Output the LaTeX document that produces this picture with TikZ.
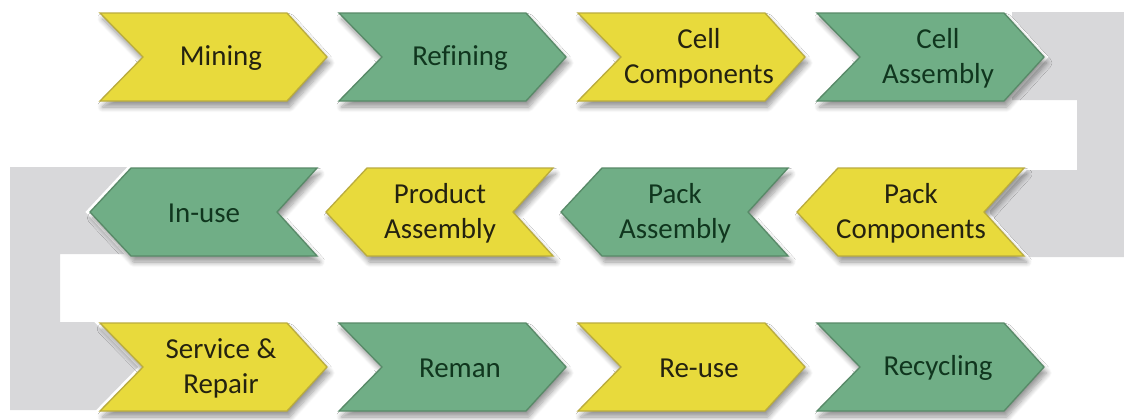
\documentclass[tikz,border=0pt]{standalone}
\usepackage{fontspec}
\setmainfont{Carlito}[Ligatures=NoCommon]
\usetikzlibrary{shadows.blur}

\definecolor{chevyellow}{RGB}{232,218,60}
\definecolor{chevyellowedge}{RGB}{186,172,62}
\definecolor{chevgreen}{RGB}{112,174,134}
\definecolor{chevgreenedge}{RGB}{88,138,104}
\definecolor{yellowink}{RGB}{36,34,16}
\definecolor{greenink}{RGB}{16,54,30}
\definecolor{bandgray}{RGB}{216,216,218}

\tikzset{
  x=0.75pt, y=-0.75pt,
  chevbase/.style={
    preaction={draw=white, line width=5pt, line join=miter},
    blur shadow={shadow xshift=2pt, shadow yshift=-4.5pt, shadow blur steps=8,
                 shadow blur radius=4pt, shadow opacity=42},
    line width=1pt, line join=miter},
  ylw/.style={chevbase, fill=chevyellow, draw=chevyellowedge},
  grn/.style={chevbase, fill=chevgreen, draw=chevgreenedge},
  labelbase/.style={align=center, inner sep=0pt,
    font=\fontsize{21.7}{26.3}\selectfont},
  ylwtext/.style={labelbase, text=yellowink},
  grntext/.style={labelbase, text=greenink},
  band/.style={fill=bandgray, draw=none},
}

% chevron pointing right: left x, top y, style, node name, label
\newcommand\chevR[5]{%
  \path[#3] (#1,#2) -- ++(187,0) -- ++(40,44) -- ++(-40,44) -- ++(-187,0)
    -- ++(43,-44) -- cycle;
  \node[#3text] (#4) at ({#1+121},{#2+45}) {#5};
}
% chevron pointing left: tip x, top y, style, node name, label
\newcommand\chevL[5]{%
  \path[#3] (#1,#2+44) -- ++(41,-44) -- ++(186,0) -- ++(-40,44) -- ++(40,44)
    -- ++(-186,0) -- cycle;
  \node[#3text] (#4) at ({#1+114},{#2+45}) {#5};
}

\begin{document}
\begin{tikzpicture}
\useasboundingbox (0,0) rectangle (1124,419);

% grey return bands behind the rows
\path[band] (1012,12) -- (1124,12) -- (1124,257) -- (990,257) -- (990,170)
  -- (1077,170) -- (1077,100) -- (1012,100) -- cycle;
\path[band] (140,167) -- (10,167) -- (10,410) -- (145,410) -- (145,322)
  -- (60,322) -- (60,254) -- (140,254) -- cycle;

% first row
\chevR{100}{13}{ylw}{mining}{Mining}
\chevR{339}{13}{grn}{refining}{Refining}
\chevR{578}{13}{ylw}{cellcomp}{Cell\\Components}
\chevR{817}{13}{grn}{cellasm}{Cell\\Assembly}

% second row, running back to the left
\chevL{797}{168}{ylw}{packcomp}{Pack\\Components}
\chevL{561}{168}{grn}{packasm}{Pack\\Assembly}
\chevL{326}{168}{ylw}{prodasm}{Product\\Assembly}
\chevL{90}{168}{grn}{inuse}{In-use}

% third row
\chevR{100}{323}{ylw}{service}{Service \&\\Repair}
\chevR{339}{323}{grn}{reman}{Reman}
\chevR{578}{323}{ylw}{reuse}{Re-use}
\chevR{817}{323}{grn}{recycling}{Recycling}
\end{tikzpicture}
\end{document}
